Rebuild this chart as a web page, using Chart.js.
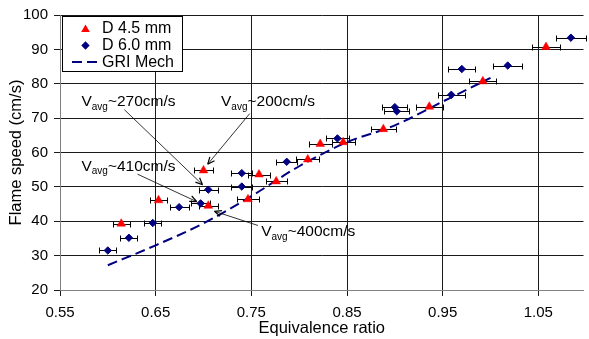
<!DOCTYPE html>
<html>
<head>
<meta charset="utf-8">
<script src="https://cdn.jsdelivr.net/npm/chart.js@4.4.0/dist/chart.umd.min.js"></script>
<style>
html,body{margin:0;padding:0;background:#fff;overflow:hidden}
#wrap{width:589px;height:339px;position:relative}
</style>
</head>
<body>
<div id="wrap"><canvas id="c"></canvas></div>
<script>
// ---- data ----
const seriesNames = ['D 4.5 mm', 'D 6.0 mm', 'GRI Mech'];

const phi45 = [0.614, 0.653, 0.700, 0.705, 0.7465, 0.758, 0.776, 0.809, 0.822, 0.846, 0.888, 0.936, 0.992, 1.058];
const sl45  = [39.3, 46.1, 54.8, 44.5, 46.4, 53.6, 51.6, 58.0, 62.5, 63.0, 66.8, 73.3, 80.7, 90.7];
const err45 = [0.009, 0.009, 0.010, 0.010, 0.011, 0.011, 0.011, 0.012, 0.012, 0.012, 0.013, 0.014, 0.014, 0.015];

const phi60 = [0.600, 0.622, 0.647, 0.6745, 0.697, 0.705, 0.740, 0.740, 0.787, 0.840, 0.900, 0.902, 0.959, 0.970, 1.018, 1.084];
const sl60  = [31.5, 35.2, 39.5, 44.1, 45.2, 49.2, 54.0, 50.1, 57.3, 64.1, 73.2, 72.0, 76.8, 84.3, 85.3, 93.4];
const err60 = [0.009, 0.009, 0.009, 0.010, 0.010, 0.010, 0.011, 0.011, 0.011, 0.012, 0.013, 0.013, 0.014, 0.014, 0.015, 0.016];

const griPhi = [0.60, 0.65, 0.70, 0.75, 0.80, 0.85, 0.90, 0.95, 1.00];
const griSl  = [27.2, 33.0, 39.4, 47.3, 56.0, 63.0, 67.9, 74.8, 81.7];

const xTicks = [0.55, 0.65, 0.75, 0.85, 0.95, 1.05];
const yTicks = [20, 30, 40, 50, 60, 70, 80, 90, 100];

// annotation labels: value text, label anchor (phi, S), arrow start (phi, S), arrow tip (phi, S)
const noteValues = ['~270cm/s', '~200cm/s', '~410cm/s', '~400cm/s'];
const noteLabelAt = [[0.5724, 73.4], [0.7183, 73.4], [0.5724, 54.66], [0.7603, 35.6]];
const noteFrom = [[0.6172, 72.48], [0.7483, 71.32], [0.631, 53.7], [0.7569, 38.77]];
const noteTo   = [[0.6990, 50.61], [0.7044, 56.59], [0.693, 45.7], [0.7114, 42.9]];

// ---- chart ----
const FONT = '"Liberation Sans", Arial, Helvetica, sans-serif';
Chart.defaults.font.family = FONT;
Chart.defaults.color = '#000';

const RED = '#ff0000', NAVY = '#000080';

function pts(xs, ys) { return xs.map((v, i) => ({x: v, y: ys[i]})); }

const bgPlugin = {
  id: 'bg',
  beforeDraw(chart) {
    const c = chart.ctx;
    c.save(); c.fillStyle = '#fff'; c.fillRect(0, 0, chart.width, chart.height); c.restore();
  }
};

const errPlugin = {
  id: 'errbars',
  beforeDatasetsDraw(chart) {
    const {ctx, scales: {x, y}} = chart;
    ctx.save();
    ctx.strokeStyle = '#000';
    ctx.lineWidth = 1;
    [[phi45, sl45, err45], [phi60, sl60, err60]].forEach(([px, py, pe]) => {
      px.forEach((v, i) => {
        const x0 = Math.round(x.getPixelForValue(v - pe[i])) + 0.5;
        const x1 = Math.round(x.getPixelForValue(v + pe[i])) + 0.5;
        const yy = Math.round(y.getPixelForValue(py[i])) + 0.5;
        ctx.beginPath();
        ctx.moveTo(x0, yy); ctx.lineTo(x1, yy);
        ctx.moveTo(x0, yy - 3); ctx.lineTo(x0, yy + 3);
        ctx.moveTo(x1, yy - 3); ctx.lineTo(x1, yy + 3);
        ctx.stroke();
      });
    });
    ctx.restore();
  }
};

function drawTri(c, x, y, r) {
  c.beginPath();
  c.moveTo(x, y - r);
  c.lineTo(x + r * Math.sqrt(3) / 2, y + r / 2);
  c.lineTo(x - r * Math.sqrt(3) / 2, y + r / 2);
  c.closePath();
  c.fill();
}
function drawDiamond(c, x, y, r) {
  c.beginPath();
  c.moveTo(x - r, y); c.lineTo(x, y - r); c.lineTo(x + r, y); c.lineTo(x, y + r);
  c.closePath();
  c.fill();
}

const notePlugin = {
  id: 'notes',
  afterDatasetsDraw(chart) {
    const {ctx, scales: {x, y}} = chart;
    ctx.save();
    // annotations
    noteValues.forEach((txt, i) => {
      const lx = x.getPixelForValue(noteLabelAt[i][0]);
      const ly = y.getPixelForValue(noteLabelAt[i][1]);
      ctx.fillStyle = '#000';
      ctx.textBaseline = 'alphabetic';
      ctx.textAlign = 'left';
      ctx.font = '15.5px ' + FONT;
      ctx.fillText('V', lx, ly);
      let w = ctx.measureText('V').width;
      ctx.font = '10px ' + FONT;
      ctx.fillText('avg', lx + w, ly + 3.5);
      w += ctx.measureText('avg').width;
      ctx.font = '15.5px ' + FONT;
      ctx.fillText(txt, lx + w, ly);

      const ax = x.getPixelForValue(noteFrom[i][0]), ay = y.getPixelForValue(noteFrom[i][1]);
      const bx = x.getPixelForValue(noteTo[i][0]), by = y.getPixelForValue(noteTo[i][1]);
      ctx.strokeStyle = '#000';
      ctx.lineWidth = 0.8;
      ctx.beginPath(); ctx.moveTo(ax, ay); ctx.lineTo(bx, by); ctx.stroke();
      const ang = Math.atan2(by - ay, bx - ax);
      const L = 7, H = 3;
      ctx.beginPath();
      ctx.moveTo(bx, by);
      ctx.lineTo(bx - L * Math.cos(ang) + H * Math.sin(ang), by - L * Math.sin(ang) - H * Math.cos(ang));
      ctx.moveTo(bx, by);
      ctx.lineTo(bx - L * Math.cos(ang) - H * Math.sin(ang), by - L * Math.sin(ang) + H * Math.cos(ang));
      ctx.lineWidth = 1.2;
      ctx.stroke();
    });

    // legend box
    const bx0 = 62.5, by0 = 16.5, bw = 120, bh = 55;
    ctx.fillStyle = '#fff';
    ctx.fillRect(bx0, by0, bw, bh);
    ctx.strokeStyle = '#000';
    ctx.lineWidth = 1;
    ctx.strokeRect(bx0, by0, bw, bh);
    const rows = [28.5, 45.5, 62];
    ctx.fillStyle = RED;
    drawTri(ctx, 85.5, rows[0] + 1, 5);
    ctx.fillStyle = NAVY;
    drawDiamond(ctx, 85.5, rows[1], 4.2);
    ctx.strokeStyle = NAVY;
    ctx.lineWidth = 2;
    ctx.setLineDash([10, 5]);
    ctx.beginPath(); ctx.moveTo(72, rows[2]); ctx.lineTo(98, rows[2]); ctx.stroke();
    ctx.setLineDash([]);
    ctx.fillStyle = '#000';
    ctx.font = '16px ' + FONT;
    ctx.textBaseline = 'middle';
    ctx.textAlign = 'left';
    seriesNames.forEach((n, i) => ctx.fillText(n, 102, rows[i] + 0.5));
    ctx.restore();
  }
};

new Chart(document.getElementById('c'), {
  type: 'scatter',
  data: {
    datasets: [
      {
        label: seriesNames[0],
        data: pts(phi45, sl45),
        pointStyle: 'triangle',
        pointRadius: 5,
        pointHoverRadius: 5,
        backgroundColor: RED,
        borderColor: RED,
        borderWidth: 0.5,
        showLine: false
      },
      {
        label: seriesNames[1],
        data: pts(phi60, sl60),
        pointStyle: 'rectRot',
        pointRadius: 3.7,
        pointHoverRadius: 3.7,
        backgroundColor: NAVY,
        borderColor: NAVY,
        borderWidth: 1,
        showLine: false
      },
      {
        label: seriesNames[2],
        data: pts(griPhi, griSl),
        showLine: true,
        pointRadius: 0,
        pointHoverRadius: 0,
        borderColor: NAVY,
        backgroundColor: NAVY,
        borderWidth: 2,
        borderDash: [10, 5],
        cubicInterpolationMode: 'monotone',
        fill: false
      }
    ]
  },
  options: {
    responsive: true,
    maintainAspectRatio: false,
    animation: false,
    layout: {padding: {top: 13, right: 0, left: 0, bottom: 0}},
    plugins: {legend: {display: false}, tooltip: {enabled: false}},
    scales: {
      x: {
        type: 'linear',
        min: 0.55,
        max: 1.0972,
        afterBuildTicks: s => { s.ticks = xTicks.map(v => ({value: v})); },
        afterFit: s => { s.height = 49; },
        ticks: {
          callback: v => Number(v).toFixed(2),
          font: {size: 15},
          padding: 8,
          maxRotation: 0,
          autoSkip: false
        },
        grid: {color: '#1a1a1a', lineWidth: 1, tickLength: 6},
        border: {color: '#808080', width: 1},
        title: {display: true, text: 'Equivalence ratio', font: {size: 16.5}, padding: {top: 0, bottom: 1}}
      },
      y: {
        type: 'linear',
        min: 20,
        max: 100,
        afterBuildTicks: s => { s.ticks = yTicks.map(v => ({value: v})); },
        afterFit: s => { s.width = 60; },
        ticks: {font: {size: 15}, padding: 6, autoSkip: false},
        grid: {color: '#1a1a1a', lineWidth: 1, tickLength: 6},
        border: {color: '#808080', width: 1},
        title: {display: true, text: 'Flame speed (cm/s)', font: {size: 16.5}, padding: {top: 7, bottom: 0}}
      }
    }
  },
  plugins: [bgPlugin, errPlugin, notePlugin]
});
</script>
</body>
</html>
